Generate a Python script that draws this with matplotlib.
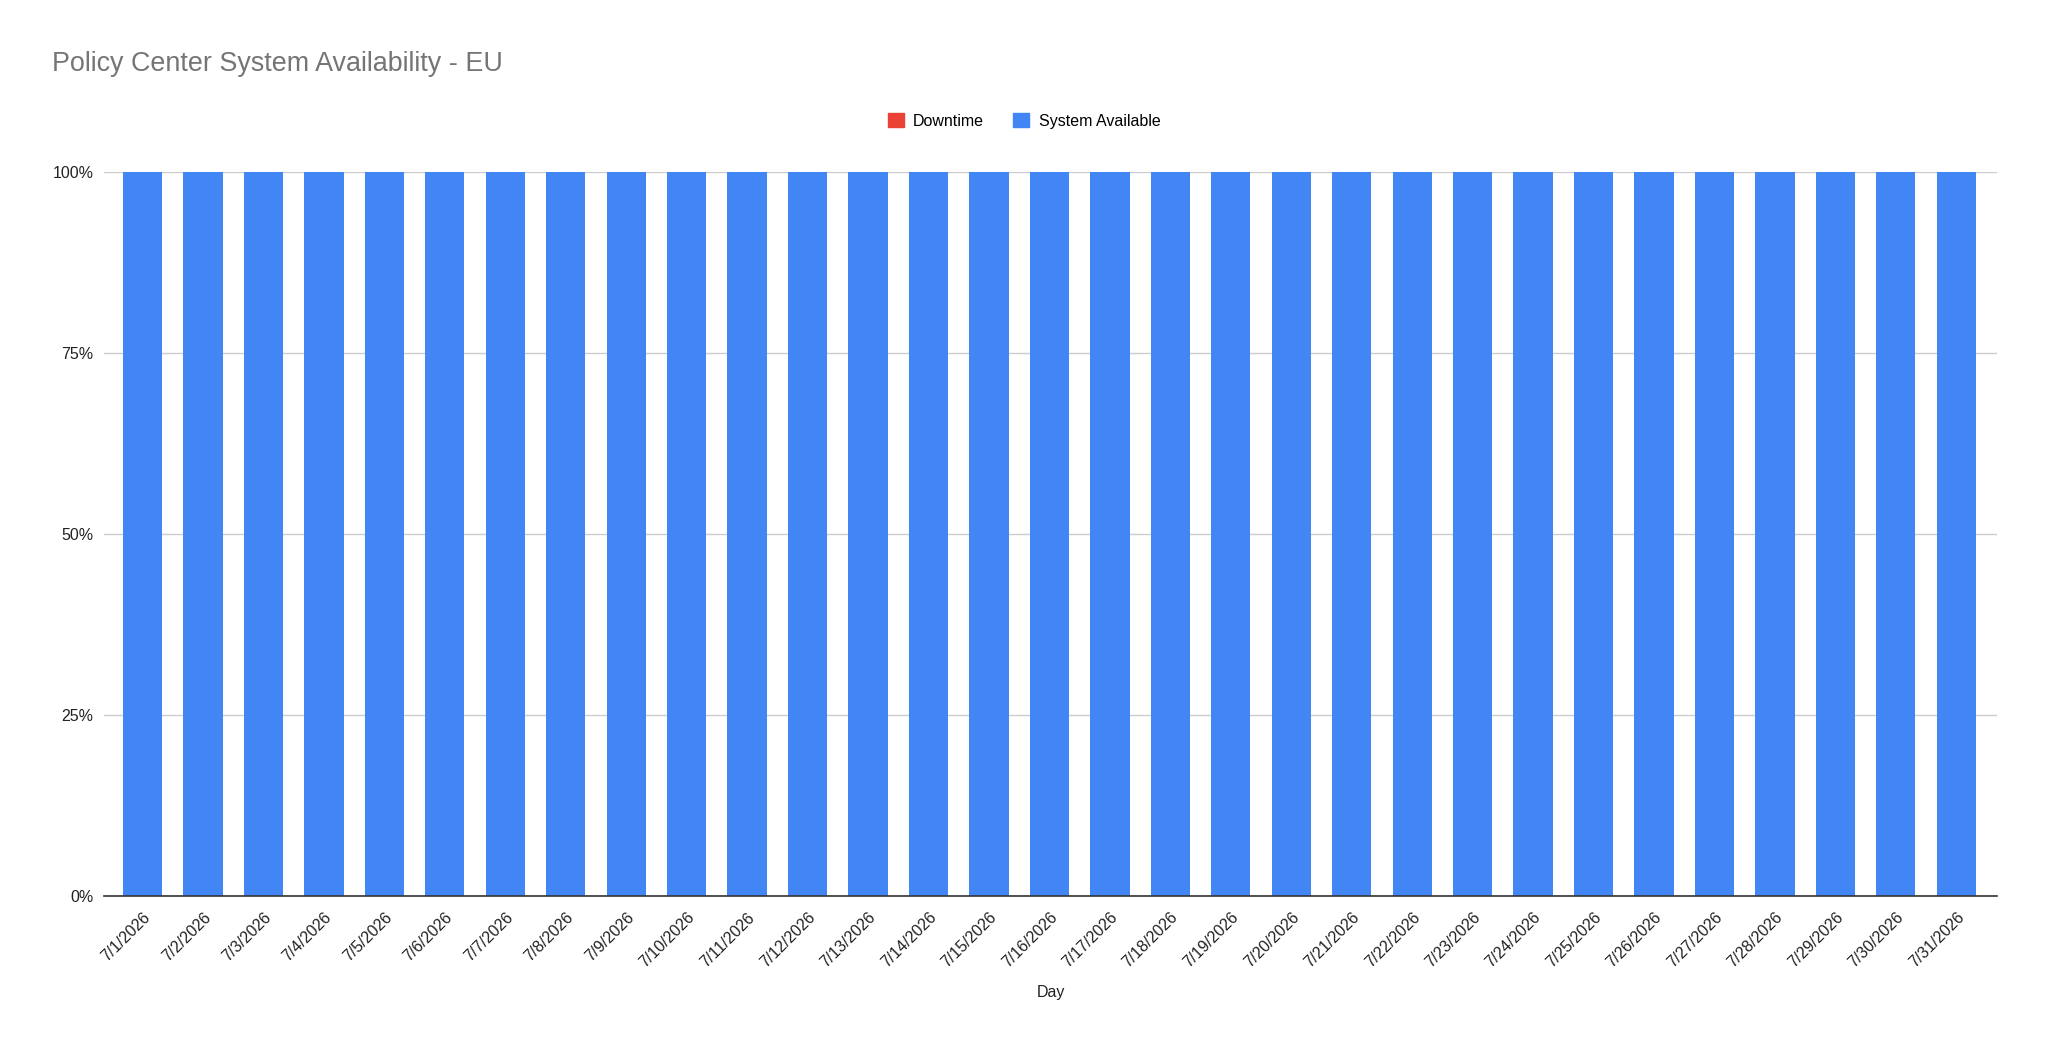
import numpy as np
import matplotlib.pyplot as plt
from matplotlib.patches import Patch
from matplotlib.ticker import PercentFormatter

plt.rcParams['font.family'] = ['Liberation Sans', 'DejaVu Sans']

days = [f"7/{d}/2026" for d in range(1, 32)]
available = [1.0] * 31
downtime = [0.0] * 31

blue = "#4285F4"
red = "#EA4335"

fig = plt.figure(figsize=(20.48, 10.54), dpi=100)
ax = fig.add_axes([0.051, 0.150, 0.924, 0.687])

x = np.arange(len(days))
ax.bar(x, available, width=0.65, color=blue, zorder=3)
ax.bar(x, downtime, width=0.65, bottom=available, color=red, zorder=3)

ax.set_xlim(-0.63, len(days) - 1 + 0.67)
ax.set_ylim(0, 1)
ax.set_yticks([0, 0.25, 0.5, 0.75, 1.0])
ax.yaxis.set_major_formatter(PercentFormatter(1.0, decimals=0))
ax.grid(axis='y', color='#cccccc', linewidth=1, zorder=0)

ax.set_xticks(x)
ax.set_xticklabels(days, rotation=45, ha='right', rotation_mode='anchor')
ax.tick_params(axis='both', length=0, labelsize=11.5, colors='#222222')
ax.tick_params(axis='x', pad=10)
ax.tick_params(axis='y', pad=8)

for s in ['top', 'right', 'left']:
    ax.spines[s].set_visible(False)
ax.spines['bottom'].set_color('#333333')
ax.spines['bottom'].set_linewidth(1.2)
ax.spines['bottom'].set_zorder(4)

# axis title centred on the plot area, not the figure
fig.text(0.051 + 0.924 / 2, 1 - 993 / 1054, "Day", ha='center', va='center',
         fontsize=11.5, color='#222222')
fig.text(52 / 2048, 1 - 64 / 1054, "Policy Center System Availability - EU",
         ha='left', va='center', fontsize=19.4, color='#757575')

handles = [Patch(color=red, label='Downtime'), Patch(color=blue, label='System Available')]
fig.legend(handles=handles, loc='center', bbox_to_anchor=(0.5, 1 - 121 / 1054), ncol=2,
           frameon=False, fontsize=11.5, handlelength=1.0, handleheight=1.0,
           handletextpad=0.6, columnspacing=1.8)

fig.savefig("out.png", dpi=100, facecolor='white')
